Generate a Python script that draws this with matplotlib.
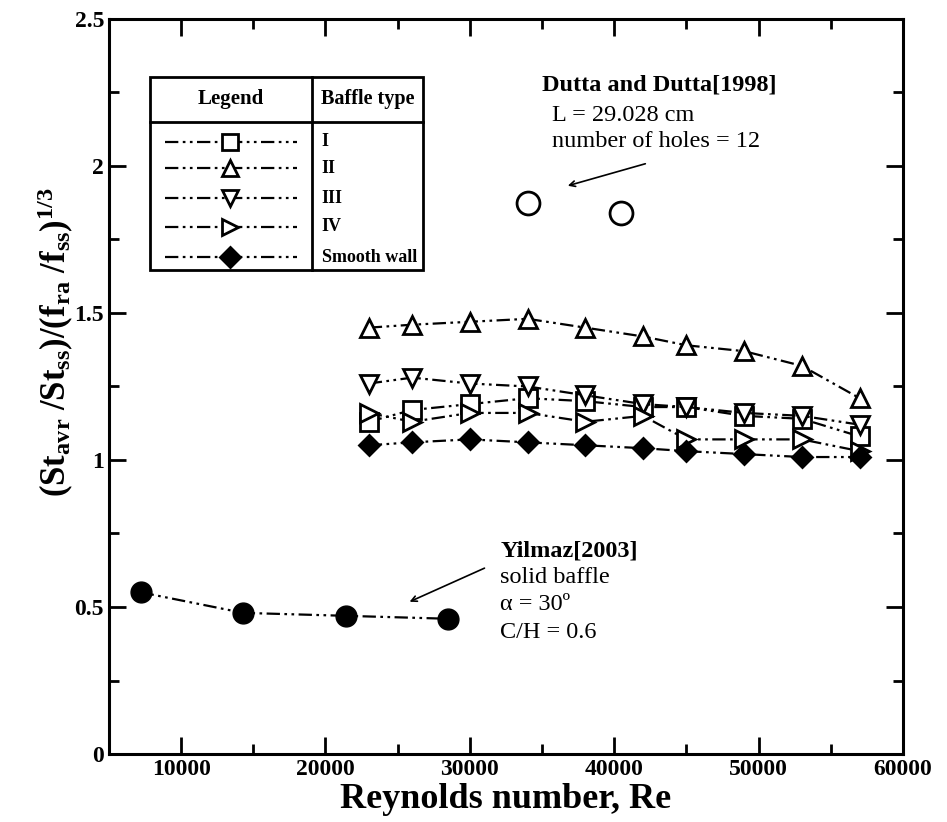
import matplotlib
matplotlib.use("Agg")
import matplotlib.pyplot as plt
from matplotlib.lines import Line2D
from matplotlib.patches import Rectangle

plt.rcParams['font.family'] = ['Liberation Serif', 'DejaVu Serif']
plt.rcParams['mathtext.fontset'] = 'custom'
plt.rcParams['mathtext.rm'] = 'Liberation Serif'
plt.rcParams['mathtext.bf'] = 'Liberation Serif:bold'
plt.rcParams['mathtext.it'] = 'Liberation Serif:italic'

FONT_SIZE = 26
TICK_SIZE = 17
NOTE_SIZE = 17.5
LEG_SIZE = 13
LS = (0, (6, 2, 1.2, 2, 1.2, 2))   # dash-dot-dot

# present work, baffle types
re_num = [23000, 26000, 30000, 34000, 38000, 42000, 45000, 49000, 53000, 57000]
type_I = [1.13, 1.17, 1.19, 1.21, 1.20, 1.18, 1.18, 1.15, 1.14, 1.08]
type_II = [1.45, 1.46, 1.47, 1.48, 1.45, 1.42, 1.39, 1.37, 1.32, 1.21]
type_III = [1.26, 1.28, 1.26, 1.25, 1.22, 1.19, 1.18, 1.16, 1.15, 1.12]
type_IV = [1.16, 1.13, 1.16, 1.16, 1.13, 1.15, 1.07, 1.07, 1.07, 1.03]
smooth = [1.05, 1.06, 1.07, 1.06, 1.05, 1.04, 1.03, 1.02, 1.01, 1.01]

# literature
dutta_re = [34000, 40500]
dutta_val = [1.875, 1.84]
yilmaz_re = [7200, 14300, 21400, 28500]
yilmaz_val = [0.55, 0.48, 0.47, 0.46]

series = [
    (type_I, 's', 'w', 'I'),
    (type_II, '^', 'w', 'II'),
    (type_III, 'v', 'w', 'III'),
    (type_IV, '>', 'w', 'IV'),
    (smooth, 'D', 'k', 'Smooth wall'),
]

fig = plt.figure(figsize=(9.47, 8.22), dpi=100)
ax = fig.add_axes([0.115, 0.0827, 0.8385, 0.8943])

for vals, mk, fc, lab in series:
    ms = 10 if mk == 'D' else 12.5
    ax.plot(re_num, vals, color='k', lw=1.6, ls=LS, marker=mk, ms=ms,
            mfc=fc, mec='k', mew=2)

ax.plot(dutta_re, dutta_val, ls='none', marker='o', ms=16.5, mfc='w', mec='k', mew=2)
ax.plot(yilmaz_re, yilmaz_val, color='k', lw=1.6, ls=LS, marker='o', ms=15,
        mfc='k', mec='k')

ax.set_xlim(5000, 60000)
ax.set_ylim(0, 2.5)
ax.set_xticks([10000, 20000, 30000, 40000, 50000, 60000])
ax.set_xticks(range(5000, 60001, 5000), minor=True)
ax.set_yticks([0, 0.5, 1, 1.5, 2, 2.5])
ax.set_yticklabels(['0', '0.5', '1', '1.5', '2', '2.5'])
ax.set_yticks([0.25 * i for i in range(11)], minor=True)
ax.tick_params(which='both', direction='in', top=True, right=True,
               labelsize=TICK_SIZE, width=2)
ax.tick_params(which='major', length=12)
ax.tick_params(which='minor', length=7)
for lb in ax.get_xticklabels() + ax.get_yticklabels():
    lb.set_fontweight('bold')
for sp in ax.spines.values():
    sp.set_linewidth(2.2)

ax.set_xlabel('Reynolds number, Re', fontsize=FONT_SIZE, fontweight='bold', labelpad=2)
ax.set_ylabel(r'$\mathbf{(St_{avr}\ /St_{ss})/(f_{ra}\ /f_{ss})^{1/3}}$',
              fontsize=FONT_SIZE - 1)
ax.yaxis.set_label_coords(-0.042, 0.56)

# table-style legend box
x0, x1, xd = 0.0516, 0.395, 0.2557
y0, y1, yh = 0.6585, 0.921, 0.860
ax.add_patch(Rectangle((x0, y0), x1 - x0, y1 - y0, transform=ax.transAxes,
                       fill=False, lw=2, ec='k', zorder=5))
ax.add_line(Line2D([xd, xd], [y0, y1], transform=ax.transAxes, color='k', lw=2))
ax.add_line(Line2D([x0, x1], [yh, yh], transform=ax.transAxes, color='k', lw=2))
ax.text((x0 + xd) / 2, (yh + y1) / 2, 'Legend', transform=ax.transAxes,
        ha='center', va='center', fontsize=LEG_SIZE + 2, fontweight='bold')
ax.text(xd + 0.012, (yh + y1) / 2, 'Baffle type', transform=ax.transAxes,
        ha='left', va='center', fontsize=LEG_SIZE + 1.5, fontweight='bold')
row_y = [0.8327, 0.797, 0.756, 0.717, 0.676]
for (vals, mk, fc, lab), ry in zip(series, row_y):
    ms = 10 if mk == 'D' else 12
    ax.add_line(Line2D([0.0705, 0.2368], [ry, ry], transform=ax.transAxes,
                       color='k', lw=1.6, ls=LS))
    ax.add_line(Line2D([0.152], [ry], transform=ax.transAxes, marker=mk, ms=ms,
                       mfc=fc, mec='k', mew=2, ls='none'))
    ax.text(0.268, ry, lab, transform=ax.transAxes, ha='left', va='center',
            fontsize=LEG_SIZE, fontweight='bold')

# annotations
ax.text(35000, 2.276, 'Dutta and Dutta[1998]', fontsize=NOTE_SIZE,
        fontweight='bold', va='center')
ax.text(35700, 2.173, 'L = 29.028 cm', fontsize=NOTE_SIZE, va='center')
ax.text(35700, 2.082, 'number of holes = 12', fontsize=NOTE_SIZE, va='center')
ax.annotate('', xy=(36600, 1.93), xytext=(42340, 2.01),
            arrowprops=dict(arrowstyle='->', color='k', lw=1.2))

ax.text(32100, 0.69, 'Yilmaz[2003]', fontsize=NOTE_SIZE, fontweight='bold', va='center')
ax.text(32100, 0.599, 'solid baffle', fontsize=NOTE_SIZE, va='center')
ax.text(32100, 0.507, 'α = 30º', fontsize=NOTE_SIZE, va='center')
ax.text(32100, 0.412, 'C/H = 0.6', fontsize=NOTE_SIZE, va='center')
ax.annotate('', xy=(25650, 0.514), xytext=(31190, 0.636),
            arrowprops=dict(arrowstyle='->', color='k', lw=1.2))

plt.savefig('out.png', dpi=100)
